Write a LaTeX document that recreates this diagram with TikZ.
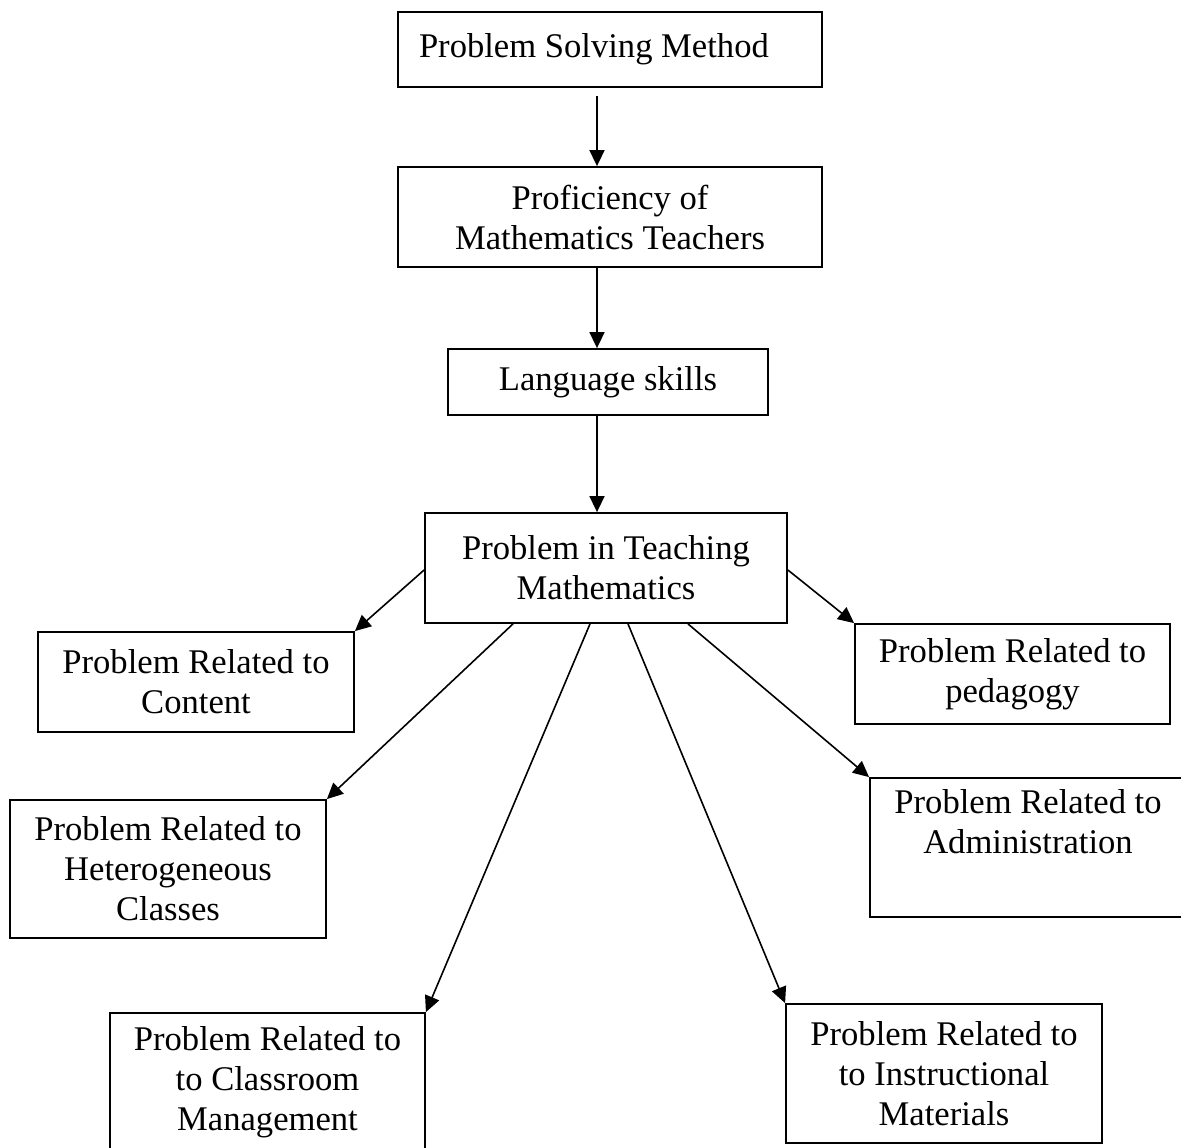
\documentclass[tikz,border=0pt]{standalone}
\usepackage{fontspec}
\setmainfont{Liberation Serif}
\usetikzlibrary{arrows.meta}
\begin{document}
\begin{tikzpicture}[x=1pt,y=-1pt,
  box/.style={draw, line width=1.8pt, align=center, inner sep=0pt,
    font=\fontsize{34.6pt}{40pt}\selectfont},
  arr/.style={line width=1.6pt, -{Triangle[length=16pt,width=15pt]}}]
\useasboundingbox (0,0) rectangle (1181,1148);
\clip (0,0) rectangle (1181,1148);
\fill[white] (0,0) rectangle (1181,1148);
\node[box, minimum width=424pt, minimum height=75pt] (b1) at (610,49.5) {\makebox[382pt][l]{Problem Solving Method}};
\node[box, minimum width=424pt, minimum height=100pt] (b2) at (610,217) {Proficiency of\\Mathematics Teachers};
\node[box, minimum width=320pt, minimum height=66pt] (b3) at (608,382) {Language skills};
\node[box, minimum width=362pt, minimum height=110pt] (b4) at (606,568) {Problem in Teaching\\Mathematics};
\node[box, minimum width=316pt, minimum height=100pt] (cont) at (196,682) {Problem Related to\\Content};
\node[box, minimum width=315pt, minimum height=100pt] (ped) at (1012.5,674) {Problem Related to\\pedagogy};
\node[box, minimum width=316pt, minimum height=138pt] (het) at (168,869) {Problem Related to\\Heterogeneous\\Classes};
\node[box, minimum width=316pt, minimum height=139pt] (adm) at (1028,847.5) {Problem Related to\\Administration\\\strut};
\node[box, minimum width=315pt, minimum height=138pt] (cls) at (267.5,1082) {Problem Related to\\to Classroom\\Management};
\node[box, minimum width=316pt, minimum height=139pt] (ins) at (944,1073.5) {Problem Related to\\to Instructional\\Materials};
\draw[arr] ([xshift=-13pt,yshift=-8pt]b1.south) -- ([xshift=-13pt]b2.north);
\draw[arr] ([xshift=-13pt]b2.south) -- ([xshift=-11pt]b3.north);
\draw[arr] ([xshift=-11pt]b3.south) -- ([xshift=-9pt]b4.north);
\draw[arr] ([yshift=-2pt]b4.west) -- (cont.north east);
\draw[arr] ([yshift=-2pt]b4.east) -- (ped.north west);
\draw[arr] ([xshift=-93pt]b4.south) -- (het.north east);
\draw[arr] ([xshift=-16pt]b4.south) -- (cls.north east);
\draw[arr] ([xshift=22pt]b4.south) -- (ins.north west);
\draw[arr] ([xshift=82pt]b4.south) -- (adm.north west);
\end{tikzpicture}
\end{document}
